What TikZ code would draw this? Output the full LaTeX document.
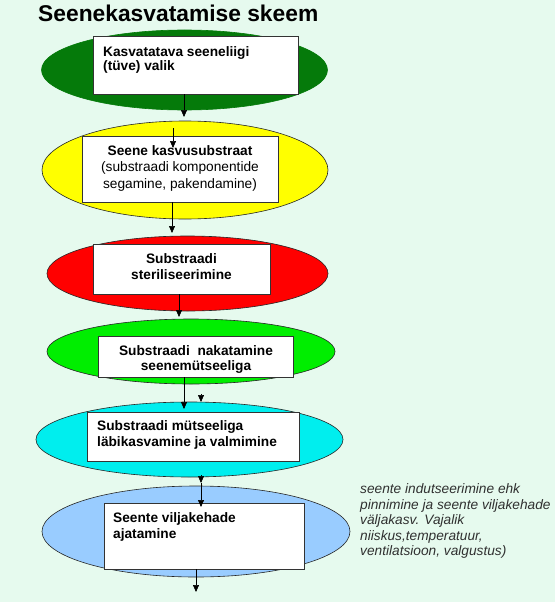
\documentclass[tikz,border=0pt]{standalone}
\usepackage{fontspec}
\setmainfont{Liberation Sans}
\usetikzlibrary{shapes.geometric,arrows.meta}
\definecolor{bgc}{HTML}{E6FAEE}
\definecolor{cdkgreen}{HTML}{057A0A}
\definecolor{cyellow}{HTML}{FFFF00}
\definecolor{cred}{HTML}{FF0000}
\definecolor{cgreen}{HTML}{00EE00}
\definecolor{ccyan}{HTML}{00EEEE}
\definecolor{cblue}{HTML}{99CCFF}
\definecolor{sidetext}{HTML}{303030}
\tikzset{
  ell/.style={ellipse, inner sep=0pt, draw=black!85, line width=0.6pt},
  box/.style={rectangle, inner sep=0pt, draw=black!80, line width=0.8pt, fill=white},
  btext/.style={inner sep=0pt, font=\fontsize{13.7}{15.5}\selectfont\bfseries},
  rtext/.style={inner sep=0pt, font=\fontsize{13.7}{16.5}\selectfont},
  stext/.style={inner sep=0pt, align=left, text=sidetext, font=\fontsize{13.7}{15.5}\selectfont\itshape},
  arr/.style={-{Triangle[width=6pt,length=7pt]}, line width=0.6pt, black},
}
\begin{document}
\begin{tikzpicture}[x=1pt,y=-1pt]
\useasboundingbox (0,0) rectangle (555,602);
\fill[bgc] (0,0) rectangle (555,602);

% title
\node[inner sep=0pt, anchor=base west, font=\fontsize{22.8}{26}\selectfont\bfseries] (title) at (38,22) {Seenekasvatamise skeem};

% ellipses
\node[ell, draw=cdkgreen, fill=cdkgreen, minimum width=286pt, minimum height=80pt] (e1) at (184.5,70) {};
\node[ell, fill=cyellow, minimum width=286pt, minimum height=98pt] (e2) at (185,170) {};
\node[ell, fill=cred, minimum width=281pt, minimum height=75pt] (e3) at (187.5,273.5) {};
\node[ell, fill=cgreen, minimum width=288pt, minimum height=65pt] (e4) at (191,351.5) {};
\node[ell, fill=ccyan, minimum width=307pt, minimum height=75pt] (e5) at (189.5,439.5) {};
\node[ell, fill=cblue, minimum width=308pt, minimum height=91pt] (e6) at (196,531.5) {};

% boxes
\node[box, minimum width=205pt, minimum height=58pt] (b1) at (195.5,65) {};
\node[box, minimum width=196pt, minimum height=66pt] (b2) at (180,169) {};
\node[box, minimum width=177pt, minimum height=50pt] (b3) at (181.5,269) {};
\node[box, minimum width=195pt, minimum height=41pt] (b4) at (195.5,356.5) {};
\node[box, minimum width=212pt, minimum height=49pt] (b5) at (193,436.5) {};
\node[box, minimum width=200pt, minimum height=66pt] (b6) at (204,536) {};

% texts (base anchor = baseline of the last line)
\node[btext, align=left, anchor=base west, font=\fontsize{13.7}{14}\selectfont\bfseries] (t1) at (103,70.5) {Kasvatatava seeneliigi\\(tüve) valik};
\node[btext, anchor=base] (t2a) at (180,155) {Seene kasvusubstraat};
\node[rtext, align=center, anchor=base] (t2b) at (180,188) {(substraadi komponentide\\segamine, pakendamine)};
\node[btext, align=center, anchor=base, font=\fontsize{13.7}{16}\selectfont\bfseries] (t3) at (181.5,279) {Substraadi\\steriliseerimine};
\node[btext, align=center, anchor=base, font=\fontsize{13.7}{15.5}\selectfont\bfseries] (t4) at (196,370.5) {Substraadi\ \ nakatamine\\seenemütseeliga};
\node[btext, align=left, anchor=base west, font=\fontsize{13.7}{16}\selectfont\bfseries] (t5) at (97,446) {Substraadi mütseeliga\\läbikasvamine ja valmimine};
\node[btext, align=left, anchor=base west, font=\fontsize{13.7}{16}\selectfont\bfseries] (t6) at (113,538) {Seente viljakehade\\ajatamine};

\node[stext, anchor=base west] (side) at (360,555.5) {seente indutseerimine ehk\\pinnimine ja seente viljakehade\\väljakasv. Vajalik\\niiskus,temperatuur,\\ventilatsioon, valgustus)};

% connectors
\coordinate (a1e) at (184,117);
\draw[arr] (b1.south -| a1e) -- (a1e);
\coordinate (a1bs) at (173,128);
\coordinate (a1be) at (173,148);
\draw[arr] (a1bs) -- (a1be);
\coordinate (a2e) at (172,233);
\draw[arr] (b2.south -| a2e) -- (a2e);
\coordinate (a3e) at (179,317);
\draw[arr] (b3.south -| a3e) -- (a3e);
\coordinate (a4e) at (184,409);
\draw[arr] (b4.south -| a4e) -- (a4e);
\coordinate (a4bs) at (201,394);
\coordinate (a4be) at (201,402);
\draw[arr] (a4bs) -- (a4be);
\coordinate (a5as) at (201,475);
\coordinate (a5ae) at (201,483);
\draw[arr] (a5as) -- (a5ae);
\coordinate (a5e) at (201,507);
\draw[arr] (a5ae) -- (a5e);
\coordinate (a6e) at (196,592);
\draw[arr] (b6.south -| a6e) -- (a6e);
\end{tikzpicture}
\end{document}
